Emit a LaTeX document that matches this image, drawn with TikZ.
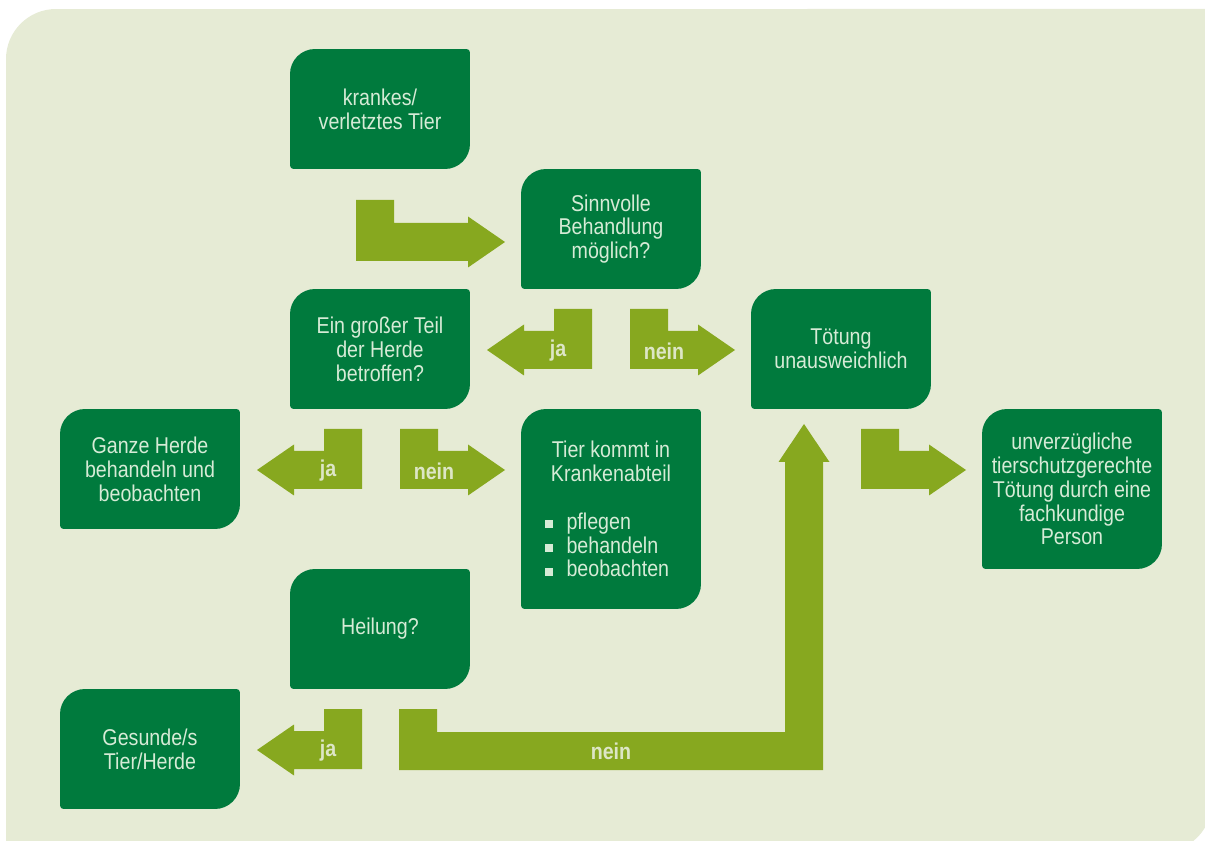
\documentclass[tikz,border=0pt]{standalone}
\usepackage{fontspec}
\setmainfont{Liberation Sans}[FakeStretch=0.86]
\definecolor{bgcol}{HTML}{E6EBD5}
\definecolor{boxgreen}{HTML}{007A3D}
\definecolor{arrowgreen}{HTML}{87A81F}
\definecolor{boxtext}{HTML}{D6EBD6}
\definecolor{labeltext}{HTML}{DDE6C6}
\newcommand{\sqbullet}{\textcolor{boxtext}{\rule[0.6pt]{0.16cm}{0.16cm}}\hspace{0.28cm}}

\begin{document}
\begin{tikzpicture}[x=0.02cm, y=-0.02cm,
  box/.style={minimum width=3.6cm, minimum height=2.4cm, inner sep=0pt, fill=bgcol,
    text=boxtext, align=center, font=\fontsize{13}{13.6}\selectfont,
    path picture={
      \fill[boxgreen] ([yshift=2pt]path picture bounding box.south west)
        -- ([yshift=-0.5cm]path picture bounding box.north west)
        arc[start angle=180, end angle=90, radius=0.5cm]
        -- ([xshift=-2pt]path picture bounding box.north east)
        arc[start angle=90, end angle=0, radius=2pt]
        -- ([yshift=0.5cm]path picture bounding box.south east)
        arc[start angle=0, end angle=-90, radius=0.5cm]
        -- ([xshift=2pt]path picture bounding box.south west)
        arc[start angle=270, end angle=180, radius=2pt] -- cycle;}},
  flow/.style={fill=arrowgreen},
  flowlabel/.style={text=labeltext, inner sep=0pt, font=\fontsize{13}{13.6}\selectfont\bfseries}]
\useasboundingbox (0,0) rectangle (1205,841);
% background panel
\fill [bgcol] (6,852) -- (6,59) arc[start angle=180, end angle=90, radius=1cm]
  -- (1212,9) -- (1212,802) arc[start angle=0, end angle=-90, radius=1cm] -- cycle;

% boxes
\node (krank) at (380,109) [box] {krankes/\\verletztes Tier};
\node (sinn) at (611,229) [box] {Sinnvolle\\Behandlung\\möglich?};
\node (teil) at (380,349) [box] {Ein großer Teil\\der Herde\\betroffen?};
\node (toet) at (841,349) [box] {Tötung\\unausweichlich};
\node (ganz) at (150,469) [box] {Ganze Herde\\behandeln und\\beobachten};
\node (tier) at (611,509) [box, minimum height=4cm] {Tier kommt in\\Krankenabteil\\[13.6pt]
  \makebox[2.66cm][l]{\sqbullet pflegen}\\
  \makebox[2.66cm][l]{\sqbullet behandeln}\\
  \makebox[2.66cm][l]{\sqbullet beobachten}};
\node (unv) at (1072,489) [box, minimum height=3.2cm] {unverzügliche\\tierschutzgerechte\\Tötung durch eine\\fachkundige\\Person};
\node (heil) at (380,629) [box] {Heilung?};
\node (ges) at (150,749) [box] {Gesunde/s\\Tier/Herde};

% arrows
\fill [flow] (356,200) -- (394,200) -- (394,223) -- (468,223) -- (468,216.5) -- (505,242)
  -- (468,267.5) -- (468,261) -- (356,261) -- cycle;
\fill [flow] (592,309) -- (554,309) -- (554,331) -- (524,331) -- (524,324.5) -- (487,350)
  -- (524,375.5) -- (524,369) -- (592,369) -- cycle;
\fill [flow] (630,309) -- (668,309) -- (668,331) -- (698,331) -- (698,324.5) -- (735,350)
  -- (698,375.5) -- (698,369) -- (630,369) -- cycle;
\fill [flow] (362,429) -- (324,429) -- (324,451) -- (294,451) -- (294,444.5) -- (257,470)
  -- (294,495.5) -- (294,489) -- (362,489) -- cycle;
\fill [flow] (400,429) -- (438,429) -- (438,451) -- (468,451) -- (468,444.5) -- (505,470)
  -- (468,495.5) -- (468,489) -- (400,489) -- cycle;
\fill [flow] (861,429) -- (899,429) -- (899,451) -- (929,451) -- (929,444.5) -- (966,470)
  -- (929,495.5) -- (929,489) -- (861,489) -- cycle;
\fill [flow] (362,709) -- (324,709) -- (324,731) -- (294,731) -- (294,724.5) -- (257,750)
  -- (294,775.5) -- (294,769) -- (362,769) -- cycle;
\fill [flow] (399,709) -- (437,709) -- (437,732) -- (785,732) -- (785,462) -- (778.5,462)
  -- (804,424) -- (829.5,462) -- (823,462) -- (823,770) -- (399,770) -- cycle;

% arrow labels
\node (ja1) at (558,351) [flowlabel] {ja};
\node (nein1) at (664,351) [flowlabel] {nein};
\node (ja2) at (328,471) [flowlabel] {ja};
\node (nein2) at (434,471) [flowlabel] {nein};
\node (ja3) at (328,751) [flowlabel] {ja};
\node (nein3) at (611,751) [flowlabel] {nein};
\end{tikzpicture}
\end{document}
